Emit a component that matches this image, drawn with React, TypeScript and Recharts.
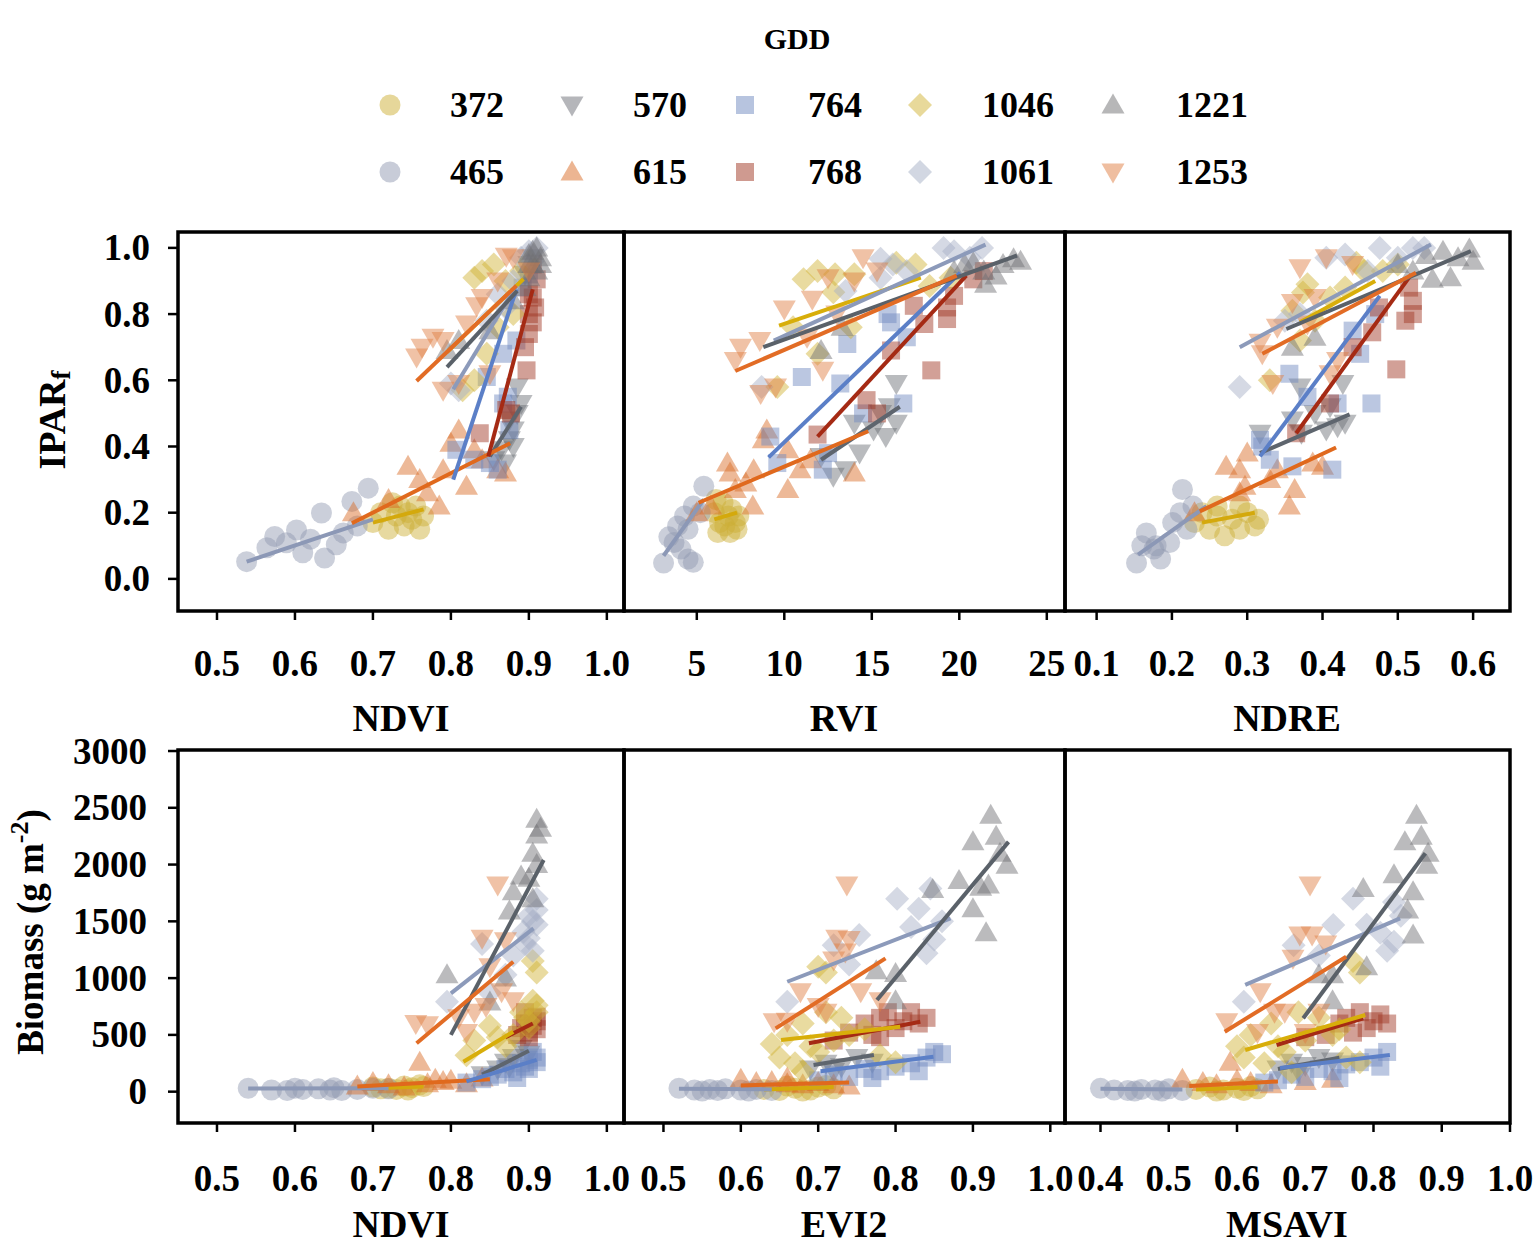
import React from 'react'
import { ReferenceArea, Scatter, ScatterChart, XAxis, YAxis } from 'recharts'

type Pt = [number, number]
type Fit = [number, number, number, number]

// GDD groups, same order everywhere below
const GDD = ['372', '465', '570', '615', '764', '768', '1046', '1061', '1221', '1253']
const MARKERS = ['circle', 'circle', 'down', 'up', 'square', 'square', 'diamond', 'diamond', 'up', 'down']
const FILLS = ['#CDAF35', '#9199B1', '#6B6E75', '#D96B25', '#6F89BF', '#9F3521', '#D1B335', '#A5AFC5', '#6F6F72', '#DF7D41']
const LINES = ['#D4A90C', '#8C98B6', '#5E656E', '#E0691D', '#5B7FC7', '#A52A14', '#D8AE0A', '#8C9ABA', '#5A6169', '#E26C25']

// ticks
const iparTicks = [0, 0.2, 0.4, 0.6, 0.8, 1.0]
const bioTicks = [0, 500, 1000, 1500, 2000, 2500, 3000]
const ndviTicks = [0.5, 0.6, 0.7, 0.8, 0.9, 1.0]
const rviTicks = [5, 10, 15, 20, 25]
const ndreTicks = [0.1, 0.2, 0.3, 0.4, 0.5, 0.6]
const evi2Ticks = [0.5, 0.6, 0.7, 0.8, 0.9, 1.0]
const msaviTicks = [0.4, 0.5, 0.6, 0.7, 0.8, 0.9, 1.0]

// IPARf vs NDVI
const iparNdviPts: Pt[][] = [
  [[0.70, 0.17], [0.71, 0.2], [0.72, 0.15], [0.73, 0.19], [0.735, 0.22], [0.74, 0.16], [0.745, 0.2], [0.75, 0.18], [0.755, 0.22], [0.76, 0.15], [0.725, 0.23], [0.765, 0.19]],
  [[0.538, 0.052], [0.564, 0.094], [0.574, 0.128], [0.589, 0.109], [0.602, 0.148], [0.61, 0.079], [0.634, 0.199], [0.638, 0.063], [0.653, 0.103], [0.662, 0.139], [0.673, 0.234], [0.694, 0.274], [0.62, 0.12], [0.68, 0.16]],
  [[0.855, 0.36], [0.865, 0.39], [0.87, 0.35], [0.875, 0.42], [0.875, 0.48], [0.88, 0.45], [0.885, 0.5], [0.885, 0.58], [0.89, 0.53], [0.88, 0.4], [0.9, 0.95], [0.905, 0.97], [0.895, 0.92]],
  [[0.675, 0.2], [0.72, 0.24], [0.745, 0.34], [0.76, 0.3], [0.77, 0.26], [0.785, 0.22], [0.79, 0.33], [0.8, 0.41], [0.81, 0.45], [0.82, 0.28], [0.84, 0.36], [0.86, 0.33], [0.87, 0.32], [0.83, 0.39]],
  [[0.807, 0.39], [0.83, 0.36], [0.85, 0.35], [0.86, 0.33], [0.846, 0.61], [0.867, 0.53], [0.873, 0.55], [0.867, 0.68], [0.884, 0.72], [0.892, 0.88], [0.9, 0.92], [0.875, 0.45]],
  [[0.837, 0.44], [0.871, 0.51], [0.877, 0.5], [0.897, 0.63], [0.9, 0.74], [0.905, 0.775], [0.908, 0.82], [0.91, 0.905], [0.9, 0.86], [0.905, 0.95], [0.9, 0.8], [0.905, 0.85], [0.895, 0.7]],
  [[0.815, 0.57], [0.83, 0.6], [0.83, 0.91], [0.84, 0.93], [0.846, 0.68], [0.855, 0.95], [0.86, 0.76], [0.87, 0.9], [0.89, 0.93], [0.9, 0.96], [0.88, 0.8]],
  [[0.8, 0.59], [0.81, 0.57], [0.846, 0.78], [0.86, 0.86], [0.89, 0.97], [0.9, 0.99], [0.91, 1.0], [0.905, 0.96], [0.88, 0.9], [0.87, 0.82]],
  [[0.795, 0.69], [0.81, 0.72], [0.85, 0.75], [0.88, 0.84], [0.9, 0.91], [0.905, 0.95], [0.91, 1.0], [0.915, 0.97], [0.91, 0.93], [0.9, 0.98], [0.895, 0.88], [0.905, 0.99], [0.915, 0.95], [0.9, 0.95]],
  [[0.756, 0.67], [0.763, 0.7], [0.777, 0.73], [0.79, 0.72], [0.79, 0.57], [0.81, 0.59], [0.82, 0.77], [0.833, 0.825], [0.84, 0.85], [0.85, 0.62], [0.871, 0.975], [0.88, 0.97], [0.9, 0.93], [0.86, 0.9]],
]
const iparNdviFit: Fit[] = [
  [0.70, 0.17, 0.765, 0.21], [0.538, 0.052, 0.70, 0.18], [0.85, 0.37, 0.89, 0.52], [0.673, 0.168, 0.876, 0.41], [0.803, 0.3, 0.884, 0.875],
  [0.848, 0.37, 0.905, 0.875], [0.795, 0.685, 0.893, 0.906], [0.803, 0.573, 0.884, 0.886], [0.795, 0.64, 0.885, 0.87], [0.756, 0.598, 0.884, 0.886],
]

// IPARf vs RVI
const iparRviPts: Pt[][] = [
  [[6.0, 0.2], [6.2, 0.14], [6.3, 0.17], [6.5, 0.23], [6.6, 0.16], [6.8, 0.19], [6.9, 0.14], [7.0, 0.21], [7.2, 0.17], [7.4, 0.19], [6.1, 0.24], [7.3, 0.15]],
  [[3.1, 0.048], [3.4, 0.127], [3.7, 0.11], [4.1, 0.09], [4.5, 0.15], [4.5, 0.06], [4.8, 0.22], [4.8, 0.05], [5.2, 0.2], [5.4, 0.28], [3.9, 0.16], [4.3, 0.19]],
  [[12.1, 0.37], [12.8, 0.31], [14.0, 0.47], [14.3, 0.38], [15.1, 0.45], [15.5, 0.5], [16.0, 0.52], [16.4, 0.59], [16.4, 0.47], [13.5, 0.33], [15.8, 0.43]],
  [[5.0, 0.2], [6.75, 0.35], [6.9, 0.32], [7.2, 0.27], [7.8, 0.29], [8.2, 0.22], [8.25, 0.33], [8.8, 0.42], [9.0, 0.45], [10.2, 0.27], [10.2, 0.39], [10.9, 0.33], [14.0, 0.32], [11.5, 0.36], [5.8, 0.22]],
  [[9.2, 0.43], [9.6, 0.35], [11.0, 0.61], [12.2, 0.33], [13.2, 0.59], [13.6, 0.71], [15.9, 0.8], [16.1, 0.775], [16.8, 0.53], [17.0, 0.73], [12.5, 0.38], [14.5, 0.5]],
  [[11.9, 0.436], [14.7, 0.54], [15.3, 0.5], [16.1, 0.69], [17.4, 0.825], [18.4, 0.63], [19.3, 0.785], [19.3, 0.82], [19.7, 0.855], [20.8, 0.905], [21.4, 0.93], [18.0, 0.77]],
  [[9.6, 0.58], [11.1, 0.905], [11.9, 0.93], [11.9, 0.68], [12.8, 0.866], [12.9, 0.92], [13.8, 0.76], [14.0, 0.92], [16.4, 0.955], [17.5, 0.95], [18.3, 0.885], [19.5, 0.91], [10.5, 0.76]],
  [[8.7, 0.58], [15.5, 0.967], [15.5, 0.91], [16.2, 0.95], [19.1, 1.0], [19.7, 0.99], [20.6, 0.97], [21.3, 1.0], [17.0, 0.93], [13.5, 0.87]],
  [[12.1, 0.69], [13.3, 0.76], [19.7, 0.93], [20.3, 0.95], [20.8, 0.955], [21.4, 0.93], [21.5, 0.89], [22.1, 0.915], [23.1, 0.967], [23.5, 0.96], [22.5, 0.95]],
  [[7.2, 0.66], [7.5, 0.7], [8.6, 0.72], [8.65, 0.56], [9.5, 0.58], [10.0, 0.815], [11.3, 0.73], [11.6, 0.845], [12.2, 0.63], [12.5, 0.91], [14.0, 0.9], [14.5, 0.97], [15.3, 0.93], [13.0, 0.8]],
]
const iparRviFit: Fit[] = [
  [6.0, 0.18, 7.3, 0.2], [3.1, 0.07, 5.4, 0.24], [12.1, 0.36, 16.6, 0.52], [5.1, 0.23, 14.8, 0.446], [9.1, 0.367, 20.05, 0.925],
  [11.9, 0.43, 20.4, 0.916], [9.7, 0.765, 17.8, 0.91], [9.4, 0.72, 21.5, 1.01], [8.8, 0.7, 23.3, 0.977], [7.2, 0.628, 19.85, 0.916],
]

// IPARf vs NDRE
const iparNdrePts: Pt[][] = [
  [[0.23, 0.17], [0.24, 0.2], [0.25, 0.15], [0.26, 0.19], [0.26, 0.22], [0.27, 0.13], [0.28, 0.18], [0.29, 0.15], [0.29, 0.22], [0.3, 0.2], [0.31, 0.16], [0.315, 0.18]],
  [[0.153, 0.048], [0.16, 0.1], [0.166, 0.139], [0.176, 0.09], [0.179, 0.1], [0.197, 0.11], [0.201, 0.17], [0.211, 0.2], [0.214, 0.27], [0.228, 0.22], [0.185, 0.06], [0.22, 0.15]],
  [[0.317, 0.44], [0.36, 0.48], [0.37, 0.58], [0.372, 0.44], [0.39, 0.5], [0.405, 0.45], [0.42, 0.46], [0.427, 0.59], [0.43, 0.47], [0.41, 0.52]],
  [[0.23, 0.2], [0.272, 0.34], [0.29, 0.33], [0.29, 0.26], [0.297, 0.28], [0.3, 0.38], [0.33, 0.3], [0.356, 0.22], [0.363, 0.27], [0.387, 0.35], [0.4, 0.34], [0.34, 0.33]],
  [[0.317, 0.42], [0.32, 0.4], [0.33, 0.36], [0.356, 0.62], [0.36, 0.34], [0.38, 0.55], [0.413, 0.33], [0.42, 0.53], [0.44, 0.75], [0.465, 0.53], [0.47, 0.8], [0.45, 0.68]],
  [[0.365, 0.44], [0.41, 0.53], [0.44, 0.7], [0.466, 0.745], [0.475, 0.82], [0.498, 0.633], [0.51, 0.78], [0.52, 0.8], [0.52, 0.84], [0.515, 0.88]],
  [[0.33, 0.6], [0.36, 0.81], [0.37, 0.72], [0.374, 0.865], [0.38, 0.89], [0.39, 0.78], [0.41, 0.85], [0.445, 0.955], [0.455, 0.93], [0.48, 0.93], [0.5, 0.95], [0.43, 0.88]],
  [[0.29, 0.58], [0.35, 0.78], [0.37, 0.8], [0.405, 0.97], [0.43, 0.98], [0.476, 1.0], [0.5, 0.97], [0.52, 1.0], [0.535, 1.0], [0.46, 0.93]],
  [[0.36, 0.7], [0.39, 0.73], [0.52, 0.93], [0.538, 0.977], [0.546, 0.905], [0.56, 0.99], [0.57, 0.91], [0.58, 0.97], [0.595, 0.997], [0.6, 0.96], [0.5, 0.95]],
  [[0.317, 0.715], [0.32, 0.68], [0.334, 0.59], [0.34, 0.76], [0.36, 0.835], [0.37, 0.94], [0.38, 0.77], [0.405, 0.97], [0.41, 0.62], [0.42, 0.66], [0.44, 0.95], [0.39, 0.85]],
]
const iparNdreFit: Fit[] = [
  [0.24, 0.17, 0.31, 0.2], [0.155, 0.073, 0.246, 0.22], [0.317, 0.38, 0.436, 0.497], [0.237, 0.204, 0.418, 0.397], [0.317, 0.37, 0.476, 0.855],
  [0.365, 0.44, 0.518, 0.92], [0.37, 0.775, 0.47, 0.9], [0.29, 0.7, 0.544, 1.01], [0.352, 0.755, 0.597, 0.99], [0.32, 0.68, 0.524, 0.925],
]

// Biomass vs NDVI
const bioNdviPts: Pt[][] = [
  [[0.7, 40], [0.71, 25], [0.72, 30], [0.73, 20], [0.74, 50], [0.75, 35], [0.76, 60], [0.745, 15], [0.765, 45]],
  [[0.54, 30], [0.57, 15], [0.59, 10], [0.61, 20], [0.63, 25], [0.645, 15], [0.66, 10], [0.68, 20], [0.7, 30], [0.72, 25], [0.6, 30], [0.65, 35]],
  [[0.84, 150], [0.86, 200], [0.87, 260], [0.88, 300], [0.89, 380], [0.9, 330], [0.875, 220]],
  [[0.68, 50], [0.7, 80], [0.72, 60], [0.74, 40], [0.76, 260], [0.77, 70], [0.79, 90], [0.8, 100], [0.82, 70], [0.84, 120], [0.78, 110]],
  [[0.82, 80], [0.84, 110], [0.86, 150], [0.87, 200], [0.88, 170], [0.885, 120], [0.89, 250], [0.9, 200], [0.91, 300], [0.905, 350], [0.85, 130], [0.895, 220], [0.91, 260], [0.9, 280]],
  [[0.885, 500], [0.89, 560], [0.9, 600], [0.905, 650], [0.91, 550], [0.9, 480], [0.895, 700], [0.91, 620], [0.905, 580], [0.9, 520], [0.91, 660], [0.895, 600]],
  [[0.82, 320], [0.83, 450], [0.85, 580], [0.86, 480], [0.87, 400], [0.88, 500], [0.89, 700], [0.9, 620], [0.905, 800], [0.91, 1050], [0.905, 1150], [0.9, 560], [0.91, 700], [0.895, 650], [0.91, 760]],
  [[0.795, 792], [0.84, 1300], [0.85, 870], [0.87, 1030], [0.893, 1408], [0.905, 1240], [0.91, 1470], [0.91, 1700], [0.9, 1550], [0.88, 1200], [0.9, 1350], [0.91, 1600], [0.905, 1500], [0.895, 1300]],
  [[0.795, 1030], [0.85, 790], [0.87, 1000], [0.875, 1590], [0.88, 1760], [0.89, 1900], [0.9, 1880], [0.905, 2100], [0.91, 2260], [0.91, 2400], [0.915, 2320], [0.905, 1700], [0.91, 2000]],
  [[0.755, 600], [0.77, 590], [0.82, 520], [0.83, 700], [0.84, 1350], [0.845, 750], [0.86, 1820], [0.865, 880], [0.87, 1330], [0.88, 800], [0.85, 1100], [0.81, 650]],
]
const bioNdviFit: Fit[] = [
  [0.7, 30, 0.765, 45], [0.54, 28, 0.72, 30], [0.84, 150, 0.9, 360], [0.68, 45, 0.85, 110], [0.82, 90, 0.91, 280],
  [0.87, 480, 0.905, 600], [0.816, 264, 0.88, 528], [0.8, 866, 0.906, 1438], [0.8, 500, 0.919, 2040], [0.756, 426, 0.88, 1144],
]

// Biomass vs EVI2
const bioEvi2Pts: Pt[][] = [
  [[0.63, 20], [0.65, 10], [0.66, 50], [0.67, 30], [0.68, 5], [0.69, 15], [0.7, 40], [0.72, 25], [0.71, 55]],
  [[0.52, 30], [0.54, 15], [0.55, 5], [0.56, 20], [0.57, 10], [0.58, 25], [0.6, 15], [0.61, 5], [0.62, 20], [0.64, 10]],
  [[0.69, 200], [0.71, 250], [0.72, 180], [0.73, 220], [0.75, 300], [0.77, 260]],
  [[0.6, 110], [0.62, 80], [0.64, 90], [0.66, 70], [0.66, 120], [0.68, 60], [0.7, 80], [0.72, 60], [0.74, 50]],
  [[0.7, 100], [0.72, 150], [0.74, 130], [0.76, 200], [0.77, 120], [0.78, 180], [0.8, 220], [0.82, 250], [0.83, 180], [0.84, 300], [0.85, 350], [0.86, 330]],
  [[0.72, 450], [0.74, 520], [0.76, 600], [0.77, 500], [0.78, 650], [0.78, 480], [0.79, 700], [0.8, 560], [0.81, 620], [0.82, 700], [0.83, 600], [0.84, 650]],
  [[0.64, 420], [0.65, 300], [0.66, 500], [0.67, 250], [0.68, 600], [0.68, 180], [0.69, 400], [0.7, 350], [0.7, 1100], [0.71, 700], [0.71, 1050], [0.72, 450], [0.73, 650], [0.74, 500], [0.76, 550], [0.78, 320], [0.8, 260]],
  [[0.66, 792], [0.72, 1290], [0.74, 1120], [0.753, 1380], [0.802, 1700], [0.83, 1610], [0.845, 1790], [0.85, 1340], [0.84, 1220], [0.86, 1500], [0.82, 1450]],
  [[0.775, 1065], [0.8, 1040], [0.8, 800], [0.848, 1780], [0.882, 1860], [0.9, 1610], [0.9, 2200], [0.91, 1800], [0.917, 1400], [0.92, 1820], [0.923, 2435], [0.93, 2250], [0.944, 1995], [0.935, 2100]],
  [[0.643, 616], [0.66, 620], [0.677, 880], [0.71, 700], [0.72, 1160], [0.724, 1350], [0.735, 1230], [0.737, 1820], [0.74, 1340], [0.755, 880], [0.78, 800], [0.7, 750]],
]
const bioEvi2Fit: Fit[] = [
  [0.63, 20, 0.72, 40], [0.52, 25, 0.64, 20], [0.694, 235, 0.772, 323], [0.6, 55, 0.74, 80], [0.703, 180, 0.849, 308],
  [0.688, 426, 0.832, 616], [0.652, 455, 0.806, 572], [0.66, 968, 0.871, 1526], [0.776, 807, 0.946, 2200], [0.645, 557, 0.787, 1174],
]

// Biomass vs MSAVI
const bioMsaviPts: Pt[][] = [
  [[0.54, 20], [0.56, 40], [0.57, 5], [0.58, 15], [0.6, 30], [0.61, 10], [0.62, 45], [0.63, 25]],
  [[0.4, 30], [0.42, 15], [0.44, 10], [0.45, 5], [0.46, 20], [0.48, 15], [0.49, 5], [0.5, 25], [0.52, 10]],
  [[0.66, 200], [0.68, 260], [0.69, 180], [0.7, 230], [0.72, 300], [0.74, 270]],
  [[0.52, 110], [0.55, 80], [0.57, 60], [0.59, 260], [0.6, 100], [0.62, 80], [0.65, 60], [0.7, 90], [0.74, 110]],
  [[0.64, 80], [0.66, 100], [0.68, 150], [0.7, 130], [0.72, 200], [0.74, 180], [0.75, 120], [0.76, 240], [0.78, 260], [0.8, 300], [0.81, 220], [0.82, 350]],
  [[0.7, 480], [0.73, 500], [0.75, 600], [0.76, 650], [0.77, 520], [0.78, 700], [0.79, 560], [0.8, 620], [0.81, 680], [0.82, 600]],
  [[0.6, 400], [0.61, 300], [0.62, 500], [0.64, 250], [0.65, 600], [0.66, 400], [0.67, 350], [0.68, 170], [0.69, 700], [0.7, 450], [0.72, 650], [0.74, 500], [0.75, 550], [0.76, 300], [0.77, 1150], [0.78, 1050], [0.78, 260]],
  [[0.61, 792], [0.683, 1290], [0.72, 1200], [0.741, 1467], [0.77, 1700], [0.79, 1470], [0.82, 1240], [0.83, 1320], [0.83, 1670], [0.81, 1400], [0.84, 1550]],
  [[0.72, 1030], [0.74, 800], [0.74, 1030], [0.785, 1790], [0.79, 1100], [0.83, 1910], [0.846, 2200], [0.858, 1760], [0.858, 1380], [0.863, 2435], [0.87, 2250], [0.878, 1995], [0.85, 1600], [0.88, 2100]],
  [[0.585, 616], [0.63, 520], [0.634, 880], [0.655, 700], [0.67, 700], [0.682, 1174], [0.692, 1380], [0.7, 520], [0.707, 1820], [0.71, 1380], [0.72, 700], [0.73, 1300]],
]
const bioMsaviFit: Fit[] = [
  [0.54, 20, 0.63, 40], [0.4, 25, 0.52, 20], [0.66, 200, 0.75, 300], [0.53, 50, 0.66, 90], [0.663, 208, 0.824, 323],
  [0.658, 411, 0.785, 646], [0.612, 367, 0.788, 675], [0.612, 940, 0.839, 1526], [0.697, 646, 0.876, 2100], [0.582, 528, 0.76, 1188],
]

const FONT = '"Liberation Serif", "Times New Roman", serif'
const f1 = (v: number) => v.toFixed(1)
const f0 = (v: number) => String(v)

function markerPath(kind: string, cx: number, cy: number) {
  if (kind === 'circle') {
    const r = 10.5
    return `M${cx - r},${cy}a${r},${r} 0 1,0 ${2 * r},0a${r},${r} 0 1,0 ${-2 * r},0Z`
  }
  if (kind === 'square') {
    const h = 9
    return `M${cx - h},${cy - h}h${2 * h}v${2 * h}h${-2 * h}Z`
  }
  if (kind === 'diamond') {
    const h = 12
    return `M${cx},${cy - h}L${cx + h},${cy}L${cx},${cy + h}L${cx - h},${cy}Z`
  }
  const w = 11.5, a = 11.5, b = 8.5
  if (kind === 'up') return `M${cx},${cy - a}L${cx + w},${cy + b}L${cx - w},${cy + b}Z`
  return `M${cx},${cy + a}L${cx + w},${cy - b}L${cx - w},${cy - b}Z`
}

function XTick({ x, y, payload, fmt, dy }: any) {
  return (
    <text x={x} y={y + dy} textAnchor="middle" dominantBaseline="central"
      style={{ fontFamily: FONT, fontWeight: 700, fontSize: 37, fill: '#000' }}>
      {fmt(payload.value)}
    </text>
  )
}

function YTick({ x, y, payload, fmt, dx }: any) {
  return (
    <text x={x + dx} y={y} textAnchor="end" dominantBaseline="central"
      style={{ fontFamily: FONT, fontWeight: 700, fontSize: 37, fill: '#000' }}>
      {fmt(payload.value)}
    </text>
  )
}

interface PanelProps {
  frame: [number, number, number, number] // left, top, right, bottom
  xDomain: [number, number]
  xTicks: number[]
  xFmt: (v: number) => string
  yDomain: [number, number]
  yTicks: number[]
  yFmt: (v: number) => string
  showY: boolean
  tickDy: number
  tickDx: number
  pts: Pt[][]
  fits: Fit[]
}

function Panel({ frame, xDomain, xTicks, xFmt, yDomain, yTicks, yFmt, showY, tickDy, tickDx, pts, fits }: PanelProps) {
  const [fl, ft, fr, fb] = frame
  const mt = 20
  const mr = 40
  const xh = 130
  const ml = showY ? 0 : 40
  const yw = showY ? fl : 0
  const left = showY ? 0 : fl - ml
  const width = ml + yw + (fr - fl) + mr
  const height = mt + (fb - ft) + xh
  return (
    <div style={{ position: 'absolute', left, top: ft - mt }}>
      <ScatterChart width={width} height={height} margin={{ top: mt, right: mr, bottom: 0, left: ml }}>
        <XAxis
          type="number"
          dataKey="x"
          domain={xDomain}
          ticks={xTicks}
          interval={0}
          height={xh}
          axisLine={false}
          tickSize={9}
          tickLine={{ stroke: '#000', strokeWidth: 2.5 }}
          tick={(p: any) => <XTick {...p} fmt={xFmt} dy={tickDy} />}
        />
        <YAxis
          type="number"
          dataKey="y"
          domain={yDomain}
          ticks={yTicks}
          interval={0}
          hide={!showY}
          width={yw}
          axisLine={false}
          tickSize={10}
          tickLine={{ stroke: '#000', strokeWidth: 2.5 }}
          tick={(p: any) => <YTick {...p} fmt={yFmt} dx={tickDx} />}
        />
        <ReferenceArea
          x1={xDomain[0]}
          x2={xDomain[1]}
          y1={yDomain[0]}
          y2={yDomain[1]}
          fill="none"
          fillOpacity={0}
          stroke="#000"
          strokeWidth={3.5}
          ifOverflow="visible"
        />
        {pts.map((g, i) => (
          <Scatter
            key={`p-${GDD[i]}`}
            name={GDD[i]}
            data={g.map(([x, y]) => ({ x, y }))}
            isAnimationActive={false}
            shape={(p: any) => (
              <path d={markerPath(MARKERS[i], p.cx, p.cy)} fill={FILLS[i]} fillOpacity={0.47} stroke="none" />
            )}
          />
        ))}
        {fits.map((s, i) => (
          <Scatter
            key={`f-${GDD[i]}`}
            name={`${GDD[i]} fit`}
            data={[{ x: s[0], y: s[1] }, { x: s[2], y: s[3] }]}
            isAnimationActive={false}
            line={{ stroke: LINES[i], strokeWidth: 4 }}
            shape={() => <g />}
          />
        ))}
      </ScatterChart>
    </div>
  )
}

// legend placement (column / row) for GDD order above
const legendMarkX = [390, 572, 745, 920, 1113]
const legendLabelX = [477, 660, 835, 1018, 1212]
const legendRowY = [105, 172]

function Overlay() {
  const txt = { fontFamily: FONT, fontWeight: 700, fill: '#000' } as const
  return (
    <svg width={1535} height={1245} style={{ position: 'absolute', left: 0, top: 0 }}>
      <text x={797} y={38} textAnchor="middle" dominantBaseline="central" style={{ ...txt, fontSize: 30 }}>GDD</text>
      {GDD.map((g, i) => {
        const col = Math.floor(i / 2)
        const y = legendRowY[i % 2]
        return (
          <g key={g}>
            <path d={markerPath(MARKERS[i], legendMarkX[col], y)} fill={FILLS[i]} fillOpacity={0.5} />
            <text x={legendLabelX[col]} y={y} textAnchor="middle" dominantBaseline="central" style={{ ...txt, fontSize: 36 }}>{g}</text>
          </g>
        )
      })}
      {[['NDVI', 401], ['RVI', 844], ['NDRE', 1287]].map(([t, x]) => (
        <text key={`t-${t}`} x={x} y={718} textAnchor="middle" dominantBaseline="central" style={{ ...txt, fontSize: 38 }}>{t}</text>
      ))}
      {[['NDVI', 401], ['EVI2', 844], ['MSAVI', 1287]].map(([t, x]) => (
        <text key={`b-${t}`} x={x} y={1224} textAnchor="middle" dominantBaseline="central" style={{ ...txt, fontSize: 38 }}>{t}</text>
      ))}
      <text transform="translate(52,420) rotate(-90)" textAnchor="middle" dominantBaseline="central" style={{ ...txt, fontSize: 38 }}>
        IPAR<tspan dy={9} fontSize={27}>f</tspan>
      </text>
      <text transform="translate(30,932) rotate(-90)" textAnchor="middle" dominantBaseline="central" style={{ ...txt, fontSize: 37 }}>
        Biomass (g m<tspan dy={-11} fontSize={26}>-2</tspan><tspan dy={11}>)</tspan>
      </text>
    </svg>
  )
}

export default function App() {
  const topY: [number, number] = [-0.097, 1.048]
  const botY: [number, number] = [-276, 3009]
  return (
    <div style={{ position: 'absolute', left: 0, top: 0, width: 1535, height: 1245, background: '#fff', overflow: 'hidden' }}>
      <Overlay />
      <Panel frame={[178, 232, 624, 611]} xDomain={[0.45, 1.022]} xTicks={ndviTicks} xFmt={f1} yDomain={topY} yTicks={iparTicks} yFmt={f1}
        showY tickDy={41} tickDx={-16} pts={iparNdviPts} fits={iparNdviFit} />
      <Panel frame={[624, 232, 1065, 611]} xDomain={[0.84, 26.04]} xTicks={rviTicks} xFmt={f0} yDomain={topY} yTicks={iparTicks} yFmt={f1}
        showY={false} tickDy={41} tickDx={0} pts={iparRviPts} fits={iparRviFit} />
      <Panel frame={[1065, 232, 1510, 611]} xDomain={[0.058, 0.649]} xTicks={ndreTicks} xFmt={f1} yDomain={topY} yTicks={iparTicks} yFmt={f1}
        showY={false} tickDy={41} tickDx={0} pts={iparNdrePts} fits={iparNdreFit} />
      <Panel frame={[178, 750, 624, 1123]} xDomain={[0.45, 1.022]} xTicks={ndviTicks} xFmt={f1} yDomain={botY} yTicks={bioTicks} yFmt={f0}
        showY tickDy={44} tickDx={-19} pts={bioNdviPts} fits={bioNdviFit} />
      <Panel frame={[624, 750, 1065, 1123]} xDomain={[0.449, 1.019]} xTicks={evi2Ticks} xFmt={f1} yDomain={botY} yTicks={bioTicks} yFmt={f0}
        showY={false} tickDy={44} tickDx={0} pts={bioEvi2Pts} fits={bioEvi2Fit} />
      <Panel frame={[1065, 750, 1510, 1123]} xDomain={[0.348, 1.0]} xTicks={msaviTicks} xFmt={f1} yDomain={botY} yTicks={bioTicks} yFmt={f0}
        showY={false} tickDy={44} tickDx={0} pts={bioMsaviPts} fits={bioMsaviFit} />
    </div>
  )
}
